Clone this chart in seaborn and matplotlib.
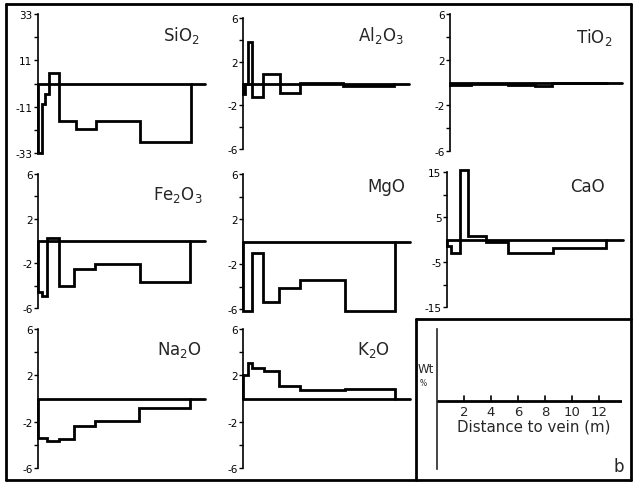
import matplotlib
matplotlib.use("Agg")
import matplotlib.pyplot as plt
import seaborn as sns
import numpy as np
from matplotlib.lines import Line2D

sns.set_style("white")
plt.rcParams['font.family'] = ['DejaVu Sans']
plt.rcParams['axes.unicode_minus'] = False

# ---- data (step profiles: bin edges in m, values in wt%) ----
SIO2_X = [0, 0.33, 0.6, 0.87, 1.69, 3.14, 4.75, 8.39, 12.54]
SIO2_Y = [-33, -9.5, -5, 4.8, -17.8, -21.7, -17.8, -27.9]

AL2O3_X = [0, 0.2, 0.38, 0.74, 1.61, 3.06, 4.70, 8.25, 12.5]
AL2O3_Y = [-1.0, 0.0, 3.8, -1.2, 0.9, -0.9, 0.05, -0.2]

TIO2_X = [0, 1.7, 4.65, 6.8, 8.1, 12.5]
TIO2_Y = [-0.2, -0.1, -0.2, -0.3, -0.05]

FE2O3_X = [0, 0.33, 0.74, 1.69, 2.92, 4.70, 8.33, 12.49]
FE2O3_Y = [-4.6, -4.9, 0.3, -4.0, -2.5, -2.1, -3.7]

MGO_X = [0, 0.74, 1.61, 2.92, 4.70, 8.33, 12.49]
MGO_Y = [-6.2, -1.0, -5.4, -4.1, -3.4, -6.2]

CAO_X = [0, 0.34, 0.99, 1.64, 3.06, 4.75, 8.26, 12.4]
CAO_Y = [-1.4, -3.0, 15.5, 0.8, -0.5, -2.9, -1.9]

NA2O_X = [0, 0.74, 1.69, 2.92, 4.70, 8.25, 12.49]
NA2O_Y = [-3.4, -3.7, -3.5, -2.4, -1.9, -0.8]

K2O_X = [0, 0.38, 0.74, 1.69, 2.98, 4.70, 8.33, 12.49]
K2O_Y = [2.0, 3.1, 2.6, 2.4, 1.1, 0.7, 0.8]

DIST_TICKS = [2, 4, 6, 8, 10, 12]

W, H = 634, 485
fig = plt.figure(figsize=(W / 100, H / 100), dpi=100)

def rect(x0, y0, x1, y1):
    return [x0 / W, 1 - y1 / H, (x1 - x0) / W, (y1 - y0) / H]

panels = [
    # title, edges, values, lim, ticks, labels, pixel box (x0, ytop, x1, ybot), title pos
    ("SiO$_2$", SIO2_X, SIO2_Y, 33, [33, 22, 11, 0, -11, -22, -33], ["33", "", "11", "", "-11", "", "-33"], (38, 15, 205, 154), (200, 25)),
    ("Al$_2$O$_3$", AL2O3_X, AL2O3_Y, 6, [6, 4, 2, -2, -4, -6], ["6", "", "2", "-2", "", "-6"], (243, 19, 409, 150), (404, 25)),
    ("TiO$_2$", TIO2_X, TIO2_Y, 6, [6, 4, 2, -2, -4, -6], ["6", "", "2", "-2", "", "-6"], (450, 15, 622, 152), (612, 27)),
    ("Fe$_2$O$_3$", FE2O3_X, FE2O3_Y, 6, [6, 4, 2, -2, -4, -6], ["6", "", "2", "-2", "", "-6"], (38, 175, 205, 309), (203, 185)),
    ("MgO", MGO_X, MGO_Y, 6, [6, 4, 2, -2, -4, -6], ["6", "", "2", "-2", "", "-6"], (243, 175, 410, 310), (405, 178)),
    ("CaO", CAO_X, CAO_Y, 15, [15, 10, 5, -5, -10, -15], ["15", "", "5", "-5", "", "-15"], (447, 173, 623, 308), (605, 178)),
    ("Na$_2$O", NA2O_X, NA2O_Y, 6, [6, 4, 2, -2, -4, -6], ["6", "", "2", "-2", "", "-6"], (38, 330, 205, 469), (202, 340)),
    ("K$_2$O", K2O_X, K2O_Y, 6, [6, 4, 2, -2, -4, -6], ["6", "", "2", "-2", "", "-6"], (243, 330, 410, 469), (390, 340)),
]

XMAX = 13.7
for title, edges, vals, lim, ticks, labels, box, tpos in panels:
    x0, yt, x1, yb = box
    ax = fig.add_axes(rect(x0, yt, x1, yb))
    xs = [0.0] + list(edges)
    ys = [0.0] + list(vals) + [0.0]
    sns.lineplot(x=xs, y=ys, drawstyle="steps-post", estimator=None, sort=False,
                 color="black", lw=2.0, ax=ax, clip_on=False,
                 solid_joinstyle="miter")
    ax.axhline(0, color="black", lw=2.0, clip_on=False)
    ax.set_xlim(0, XMAX)
    ax.set_ylim(-lim, lim)
    ax.set_yticks(ticks)
    ax.set_yticklabels(labels)
    ax.set_xticks([])
    for s in ["top", "right", "bottom"]:
        ax.spines[s].set_visible(False)
    ax.spines["left"].set_linewidth(1.2)
    ax.spines["left"].set_color("black")
    ax.tick_params(axis="y", direction="out", length=3, width=1, labelsize=7.5,
                   pad=1, left=True, colors="black")
    ax.set_facecolor("none")
    fig.text(tpos[0] / W, 1 - tpos[1] / H, title, ha="right", va="top", fontsize=12)

# legend / axis-explanation panel
axl = fig.add_axes(rect(437, 330, 622, 470))
axl.set_xlim(0, XMAX)
axl.set_ylim(-68, 72)
axl.axhline(0, color="black", lw=2.0)
for s in ["top", "right", "bottom"]:
    axl.spines[s].set_visible(False)
axl.spines["left"].set_linewidth(1.2)
axl.set_yticks([])
axl.set_xticks([])
axl.set_facecolor("none")
for t in DIST_TICKS:
    axl.plot([t, t], [0, 5], color="black", lw=1.2, clip_on=False)
    axl.text(t, -4, str(t), ha="center", va="top", fontsize=9.5)
axl.text(1.45, -18, "Distance to vein (m)", ha="left", va="top", fontsize=10.8)
fig.text(418 / W, 1 - 370 / H, "Wt", ha="left", va="center", fontsize=8.5)
fig.text(420 / W, 1 - 384 / H, "%", ha="left", va="center", fontsize=5.5)
fig.text(624 / W, 1 - 476 / H, "b", ha="right", va="bottom", fontsize=12)

# frame lines
def fline(xs, ys, lw=2.0):
    fig.add_artist(Line2D([x / W for x in xs], [1 - y / H for y in ys],
                          color="black", lw=lw, transform=fig.transFigure))

fline([6, 6], [5, 481])
fline([6, 631], [5, 5])
fline([631, 631], [5, 481])
fline([6, 631], [481, 481])
fline([416, 416], [320, 481])
fline([416, 631], [320, 320])

fig.savefig("out.png", dpi=100)
